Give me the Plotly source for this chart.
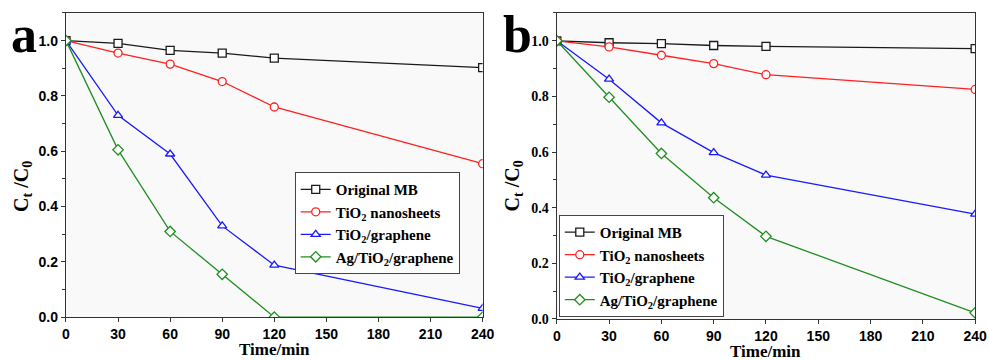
import plotly.graph_objects as go

time_min = [0, 30, 60, 90, 120, 240]
series_names = ["Original MB", "TiO<sub>2</sub> nanosheets", "TiO<sub>2</sub>/graphene", "Ag/TiO<sub>2</sub>/graphene"]

a_original = [1.0, 0.99, 0.965, 0.955, 0.937, 0.902]
a_tio2_ns = [1.0, 0.955, 0.915, 0.852, 0.76, 0.555]
a_tio2_g = [1.0, 0.73, 0.59, 0.33, 0.188, 0.032]
a_ag = [1.0, 0.605, 0.31, 0.155, 0.0, 0.0]

b_original = [1.0, 0.993, 0.99, 0.983, 0.98, 0.972]
b_tio2_ns = [1.0, 0.978, 0.948, 0.918, 0.878, 0.825]
b_tio2_g = [1.0, 0.862, 0.705, 0.598, 0.517, 0.377]
b_ag = [1.0, 0.797, 0.595, 0.436, 0.297, 0.022]

x_ticks = [0, 30, 60, 90, 120, 150, 180, 210, 240]
y_ticks = [0.0, 0.2, 0.4, 0.6, 0.8, 1.0]
y_tick_text = ["0.0", "0.2", "0.4", "0.6", "0.8", "1.0"]

colors = ["#1a1a1a", "#ff2020", "#1a1aff", "#1f8f1f"]
symbols = ["square", "circle", "triangle-up", "diamond"]

fig = go.Figure()

panels = [
    ([a_original, a_tio2_ns, a_tio2_g, a_ag], "x", "y", "legend"),
    ([b_original, b_tio2_ns, b_tio2_g, b_ag], "x2", "y2", "legend2"),
]
for vals, xa, ya, lg in panels:
    for i, v in enumerate(vals):
        fig.add_trace(go.Scatter(
            x=time_min, y=v, mode="lines+markers", name=series_names[i],
            xaxis=xa, yaxis=ya, legend=lg,
            line=dict(color=colors[i], width=1.3),
            marker=dict(symbol=symbols[i], size=8, color="white",
                        line=dict(color=colors[i], width=1.3)),
        ))

serif = "Liberation Serif, Times New Roman, serif"
sans = "Liberation Sans, Arial, sans-serif"

axis_common = dict(showline=True, linecolor="#333333", linewidth=1.3, mirror=True,
                   ticks="outside", ticklen=4, tickcolor="#333333", showgrid=False,
                   zeroline=False, automargin=False)

tick_sans = dict(family=sans, size=14, color="black", weight="bold")
tick_serif = dict(family=serif, size=14, color="black", weight="bold")
minor_y = dict(dtick=0.1, ticks="outside", ticklen=3, tickcolor="#333333")

fig.update_layout(
    width=989, height=360,
    margin=dict(l=0, r=0, t=0, b=0),
    paper_bgcolor="white",
    plot_bgcolor="#f9f9f9",
    xaxis=dict(domain=[0.0667, 0.488], range=[0, 240], tickvals=x_ticks,
               tickfont=tick_sans, anchor="y", **axis_common),
    yaxis=dict(domain=[0.119, 0.964], range=[0, 1.1], tickvals=y_ticks, ticktext=y_tick_text,
               tickfont=tick_sans, minor=minor_y, anchor="x", **axis_common),
    xaxis2=dict(domain=[0.563, 0.986], range=[0, 240], tickvals=x_ticks,
                tickfont=tick_sans, anchor="y2", **axis_common),
    yaxis2=dict(domain=[0.114, 0.964], range=[0, 1.1], tickvals=y_ticks, ticktext=y_tick_text,
                tickfont=tick_serif, minor=minor_y, anchor="x2", **axis_common),
    legend=dict(x=0.298, y=0.522, xanchor="left", yanchor="top",
                bgcolor="white", bordercolor="#444444", borderwidth=1,
                font=dict(family=serif, size=15, color="black", weight="bold"),
                tracegroupgap=0, itemwidth=30),
    legend2=dict(x=0.565, y=0.403, xanchor="left", yanchor="top",
                 bgcolor="white", bordercolor="#444444", borderwidth=1,
                 font=dict(family=serif, size=15, color="black", weight="bold"),
                 tracegroupgap=0, itemwidth=30),
    showlegend=True,
)

ann_font_title = dict(family=serif, size=17, color="black", weight="bold")
ann_font_y = dict(family=serif, size=20, color="black", weight="bold")
ann_font_panel = dict(family=serif, size=52, color="black", weight="bold")

def ann(text, x, y, font, angle=0):
    fig.add_annotation(text=text, x=x, y=y, xref="paper", yref="paper",
                       xanchor="center", yanchor="middle", showarrow=False,
                       textangle=angle, font=font)

ann("a", 0.0243, 0.903, ann_font_panel)
ann("b", 0.523, 0.903, ann_font_panel)
ann("C<sub>t</sub> /C<sub>0</sub>", 0.022, 0.483, ann_font_y, -90)
ann("C<sub>t</sub> /C<sub>0</sub>", 0.519, 0.483, ann_font_y, -90)
ann("Time/min", 0.278, 0.028, ann_font_title)
ann("Time/min", 0.774, 0.025, ann_font_title)

fig.write_html("out.html")
